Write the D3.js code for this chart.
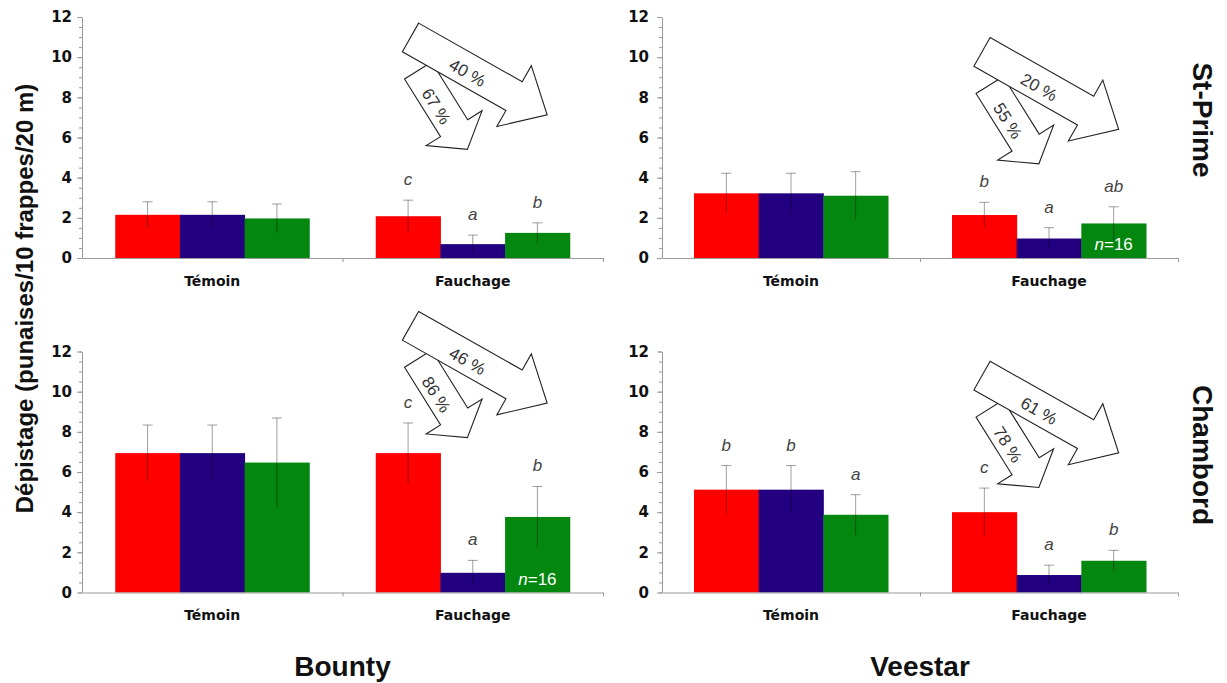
<!DOCTYPE html>
<html>
<head>
<meta charset="utf-8">
<script src="https://cdn.jsdelivr.net/npm/d3@7"></script>
<style>
  body { margin: 0; background: #fff; }
  svg { display: block; }
</style>
</head>
<body>
<svg id="chart" width="1227" height="683"></svg>
<script>
// Traitements (groupes de barres) et séries (couleurs)
const treatments = ["Témoin", "Fauchage"];
const seriesKeys = ["rouge", "bleu", "vert"];
const seriesColors = ["#fe0000", "#22007f", "#04870f"];
const varieties = ["Bounty", "Veestar"];
const sites = ["St-Prime", "Chambord"];
const yMajorTicks = [0, 2, 4, 6, 8, 10, 12];
const yMinorTicks = d3.range(0, 12.01, 0.5);

// Moyennes et écarts-types : [Témoin, Fauchage] x [rouge, bleu, vert]
const stPrimeBountyMean   = [[2.15, 2.15, 1.97], [2.08, 0.69, 1.25]];
const stPrimeBountySd     = [[0.65, 0.65, 0.72], [0.80, 0.45, 0.50]];
const stPrimeVeestarMean  = [[3.22, 3.22, 3.10], [2.14, 0.97, 1.72]];
const stPrimeVeestarSd    = [[1.00, 1.00, 1.20], [0.63, 0.54, 0.83]];
const chambordBountyMean  = [[6.94, 6.94, 6.47], [6.94, 0.98, 3.76]];
const chambordBountySd    = [[1.40, 1.40, 2.22], [1.50, 0.62, 1.52]];
const chambordVeestarMean = [[5.12, 5.12, 3.87], [4.00, 0.87, 1.58]];
const chambordVeestarSd   = [[1.20, 1.20, 1.00], [1.20, 0.49, 0.52]];

// Lettres de comparaison multiple
const stPrimeBountyLetters   = [["", "", ""], ["c", "a", "b"]];
const stPrimeVeestarLetters  = [["", "", ""], ["b", "a", "ab"]];
const chambordBountyLetters  = [["", "", ""], ["c", "a", "b"]];
const chambordVeestarLetters = [["b", "b", "a"], ["c", "a", "b"]];

// Réductions indiquées par les flèches (vert et bleu par rapport au rouge, fauchage)
const reductionGreen = ["40 %", "20 %", "46 %", "61 %"];
const reductionBlue  = ["67 %", "55 %", "86 %", "78 %"];
// Effectif réduit signalé sur la barre verte du fauchage
const sampleNote = ["", "16", "16", ""];

const panels = [
  { row: 0, col: 0, mean: stPrimeBountyMean,   sd: stPrimeBountySd,   letters: stPrimeBountyLetters },
  { row: 0, col: 1, mean: stPrimeVeestarMean,  sd: stPrimeVeestarSd,  letters: stPrimeVeestarLetters },
  { row: 1, col: 0, mean: chambordBountyMean,  sd: chambordBountySd,  letters: chambordBountyLetters },
  { row: 1, col: 1, mean: chambordVeestarMean, sd: chambordVeestarSd, letters: chambordVeestarLetters }
];

// Mise en page
const colX = [82, 662], colW = [521, 516];
const rowBase = [258, 592.5], plotH = 241;
const groupW = 194;
const tickPad = [5, 8];
const labelPad = [28, 27];
// Ancrage des flèches : décalage dans la bande "Fauchage" et hauteur en unités de l'axe
const arrowDx = [68, 62, 68, 62];
const arrowAt = [10.98, 10.26, 13.28, 10.8];

const svg = d3.select("#chart");
svg.append("rect").attr("width", 1227).attr("height", 683).attr("fill", "#fff");

const axisGrey = "#9a9a9a";

function arrowPoints(L, w, hw, hl) {
  return [[0, -w / 2], [L - hl, -w / 2], [L - hl, -hw / 2], [L, 0],
          [L - hl, hw / 2], [L - hl, w / 2], [0, w / 2]]
    .map(p => p.join(",")).join(" ");
}

panels.forEach((p, i) => {
  const x0 = colX[p.col], w = colW[p.col], base = rowBase[p.row];
  const y = d3.scaleLinear().domain([0, 12]).range([base, base - plotH]);
  const xT = d3.scaleBand().domain(treatments).range([x0, x0 + w]);
  const bw = xT.bandwidth();
  const xS = d3.scaleBand().domain(seriesKeys).range([(bw - groupW) / 2, (bw + groupW) / 2]);
  const g = svg.append("g");

  const cells = [];
  treatments.forEach((t, ti) => seriesKeys.forEach((s, si) => {
    cells.push({ t, s, si, ti, m: p.mean[ti][si], e: p.sd[ti][si], lab: p.letters[ti][si] });
  }));
  const cx = d => xT(d.t) + xS(d.s) + xS.bandwidth() / 2;

  // Barres
  g.append("g").selectAll("rect").data(cells).join("rect")
    .attr("x", d => xT(d.t) + xS(d.s))
    .attr("y", d => y(d.m))
    .attr("width", xS.bandwidth() + 0.5)
    .attr("height", d => y(0) - y(d.m))
    .attr("fill", d => seriesColors[d.si]);

  // Écarts-types
  const eb = g.append("g").attr("stroke", "#000").attr("stroke-opacity", 0.38).attr("stroke-width", 1);
  eb.selectAll("line.v").data(cells).join("line").attr("class", "v")
    .attr("x1", cx).attr("x2", cx)
    .attr("y1", d => y(d.m + d.e)).attr("y2", d => y(Math.max(0, d.m - d.e)));
  eb.selectAll("line.c").data(cells).join("line").attr("class", "c")
    .attr("x1", d => cx(d) - 5).attr("x2", d => cx(d) + 5)
    .attr("y1", d => y(d.m + d.e)).attr("y2", d => y(d.m + d.e));

  // Axe Y : graduations secondaires puis principales
  const yMinor = g.append("g").attr("transform", `translate(${x0},0)`)
    .call(d3.axisLeft(y).tickValues(yMinorTicks).tickSize(3).tickFormat(""));
  const yMajor = g.append("g").attr("transform", `translate(${x0},0)`)
    .call(d3.axisLeft(y).tickValues(yMajorTicks).tickSize(5).tickSizeOuter(0).tickPadding(tickPad[p.col]));
  [yMinor, yMajor].forEach(a => {
    a.selectAll("path,line").attr("stroke", axisGrey);
  });
  yMinor.select(".domain").remove();
  yMajor.selectAll("text")
    .attr("font-family", "DejaVu Sans").attr("font-weight", "bold")
    .attr("font-size", 15).attr("fill", "#111");

  // Axe X : ligne, graduations aux limites des bandes, étiquettes des traitements
  const xEdge = d3.scaleLinear().domain([0, 2]).range([x0, x0 + w]);
  const xLine = g.append("g").attr("transform", `translate(0,${base})`)
    .call(d3.axisBottom(xEdge).tickValues([1, 2]).tickSize(4).tickSizeOuter(0).tickFormat(""));
  xLine.selectAll("path,line").attr("stroke", axisGrey);
  const xLab = g.append("g").attr("transform", `translate(0,${base})`)
    .call(d3.axisBottom(xT).tickSize(0).tickPadding(labelPad[p.row]));
  xLab.select(".domain").remove();
  xLab.selectAll("text")
    .attr("font-family", "DejaVu Sans").attr("font-weight", "bold")
    .attr("font-size", 14).attr("fill", "#111").attr("dy", "0");

  // Lettres de signification
  g.append("g").selectAll("text").data(cells.filter(d => d.lab)).join("text")
    .attr("x", cx).attr("y", d => y(d.m + d.e) - 15)
    .attr("text-anchor", "middle")
    .attr("font-family", "Liberation Sans, Arial, sans-serif")
    .attr("font-style", "italic").attr("font-size", 17).attr("fill", "#444")
    .text(d => d.lab);

  // Effectif
  if (sampleNote[i]) {
    const d = cells.find(c => c.t === "Fauchage" && c.s === "vert");
    const t = g.append("text").attr("x", cx(d)).attr("y", y(0) - 8)
      .attr("text-anchor", "middle").attr("font-family", "Liberation Sans, Arial, sans-serif")
      .attr("font-size", 17).attr("fill", "#fff");
    t.append("tspan").attr("font-style", "italic").text("n");
    t.append("tspan").text("=" + sampleNote[i]);
  }

  // Flèches de réduction
  const ax = xT("Fauchage") + arrowDx[i], ay = y(arrowAt[i]);
  const ag = g.append("g").attr("transform", `translate(${ax},${ay})`);
  const arrowStyle = sel => sel.attr("fill", "#fff").attr("stroke", "#222")
    .attr("stroke-width", 1.1).attr("stroke-linejoin", "miter");
  const textStyle = sel => sel.attr("text-anchor", "middle").attr("dominant-baseline", "central")
    .attr("font-family", "Liberation Sans, Arial, sans-serif").attr("font-size", 17).attr("fill", "#333");

  const small = ag.append("g").attr("transform", "translate(7.6,33) rotate(58)");
  small.append("polygon").attr("points", arrowPoints(93, 32, 66, 25)).call(arrowStyle);
  small.append("text").attr("x", 40).attr("y", 4).text(reductionBlue[i]).call(textStyle);

  const big = ag.append("g").attr("transform", "rotate(29.5)");
  big.append("polygon").attr("points", arrowPoints(157, 33, 70, 38)).call(arrowStyle);
  big.append("text").attr("x", 67).attr("y", 3).text(reductionGreen[i]).call(textStyle);
});

// Titres
svg.append("text")
  .attr("transform", `translate(33,${298.5}) rotate(-90)`)
  .attr("text-anchor", "middle")
  .attr("font-family", "Liberation Sans, Arial, sans-serif").attr("font-weight", "bold")
  .attr("font-size", 24).attr("fill", "#111")
  .text("Dépistage (punaises/10 frappes/20 m)");

const siteY = [120, 455];
sites.forEach((s, k) => {
  svg.append("text")
    .attr("transform", `translate(1193,${siteY[k]}) rotate(90)`)
    .attr("text-anchor", "middle")
    .attr("font-family", "Liberation Sans, Arial, sans-serif").attr("font-weight", "bold")
    .attr("font-size", 28).attr("fill", "#111")
    .text(s);
});

varieties.forEach((v, k) => {
  svg.append("text")
    .attr("x", colX[k] + colW[k] / 2).attr("y", 676)
    .attr("text-anchor", "middle")
    .attr("font-family", "Liberation Sans, Arial, sans-serif").attr("font-weight", "bold")
    .attr("font-size", 28).attr("fill", "#111")
    .text(v);
});
</script>
</body>
</html>
